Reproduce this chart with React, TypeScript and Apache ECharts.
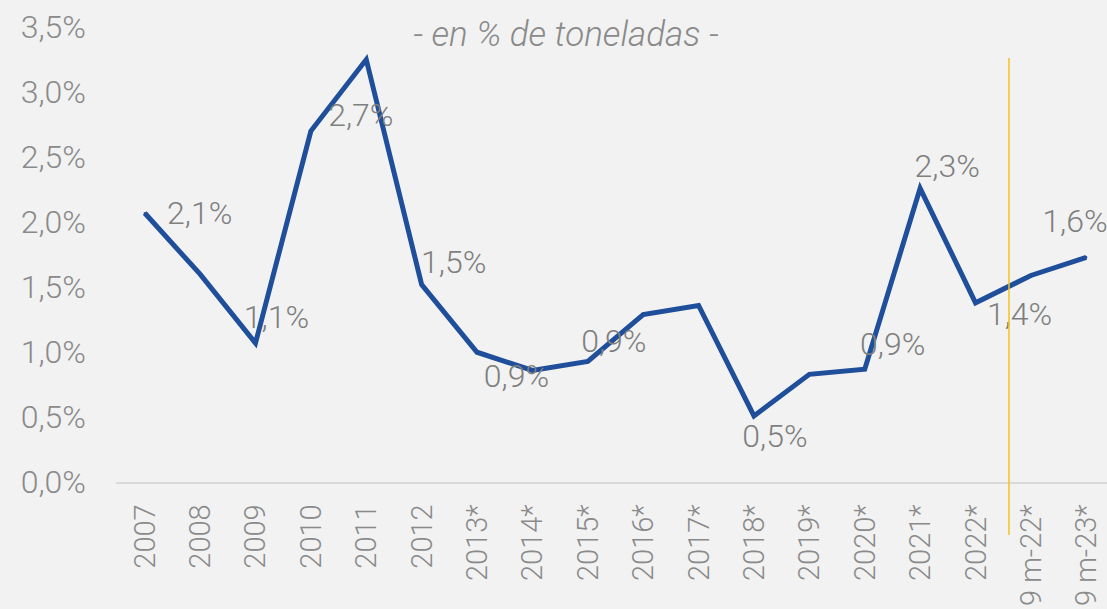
import React, { useEffect, useRef } from "react";
import * as echarts from "echarts";

const categories = ["2007", "2008", "2009", "2010", "2011", "2012", "2013*", "2014*", "2015*", "2016*", "2017*", "2018*", "2019*", "2020*", "2021*", "2022*", "9 m-22*", "9 m-23*"];
const values = [2.07, 1.6, 1.07, 2.7, 3.25, 1.52, 1.0, 0.86, 0.93, 1.29, 1.36, 0.51, 0.83, 0.87, 2.26, 1.38, 1.59, 1.73];
const labelShown = [true, false, true, true, false, true, false, true, true, false, false, true, false, true, true, true, true, false];
const yTicks = [0, 0.5, 1, 1.5, 2, 2.5, 3, 3.5];
const title = "- en % de toneladas -";

const labelOffsets: number[][] = [
  [55, 0], [0, 0], [21, -26], [50, -16], [0, 0], [32, -23], [0, 0], [-16, 6], [26, -20], [0, 0], [0, 0], [21, 20], [0, 0], [28, -25], [27, -22], [44, 11], [44, -54], [0, 0],
];

const fmt = (v: number, d: number) => v.toFixed(d).replace(".", ",") + "%";

export default function App() {
  const ref = useRef<HTMLDivElement>(null);
  useEffect(() => {
    document.body.style.margin = "0";
    const chart = echarts.init(ref.current!, undefined, { renderer: "svg" });
    const font = "Roboto";
    chart.setOption({
      animation: false,
      backgroundColor: "#f2f2f2",
      title: {
        text: title,
        left: 561,
        top: 12,
        textAlign: "center",
        textStyle: { fontFamily: font, fontWeight: 300, fontStyle: "italic", fontSize: 35, color: "#8a8a8a" },
      },
      grid: { left: 117, right: 6, top: 27, height: 457, containLabel: false },
      xAxis: {
        type: "category",
        data: categories,
        boundaryGap: true,
        axisLine: { lineStyle: { color: "#d9d9d9", width: 2 } },
        axisTick: { show: false },
        axisLabel: { rotate: 90, margin: 22, color: "#8a8a8a", fontFamily: font, fontWeight: 300, fontSize: 29, interval: 0 },
      },
      yAxis: {
        type: "value",
        min: yTicks[0],
        max: yTicks[yTicks.length - 1],
        interval: 0.5,
        splitLine: { show: false },
        axisLine: { show: false },
        axisTick: { show: false },
        axisLabel: { margin: 31, color: "#8a8a8a", fontFamily: font, fontWeight: 300, fontSize: 32, formatter: (v: number) => fmt(v, 1) },
      },
      graphic: [
        { type: "line", shape: { x1: 1009, y1: 58, x2: 1009, y2: 535 }, style: { stroke: "#f2c31c", lineWidth: 1.5 }, z: 10 },
      ],
      series: [
        {
          type: "line",
          data: values.map((v, i) => ({
            value: v,
            label: {
              show: labelShown[i],
              position: "inside",
              offset: labelOffsets[i],
            },
          })),
          symbol: "circle",
          symbolSize: 2,
          showSymbol: true,
          itemStyle: { color: "#1f4e9b" },
          lineStyle: { color: "#1f4e9b", width: 5, join: "miter" },
          label: {
            show: false,
            fontFamily: font,
            fontWeight: 300,
            fontSize: 32,
            color: "#7f7f7f",
            formatter: (p: any) => fmt(p.value, 1),
          },
          z: 5,
        },
      ],
    });
    return () => chart.dispose();
  }, []);
  return (
    <div style={{ position: "fixed", left: 0, top: 0, width: 1107, height: 609, overflow: "hidden" }}>
      <div ref={ref} style={{ width: 1120, height: 609 }} />
    </div>
  );
}
